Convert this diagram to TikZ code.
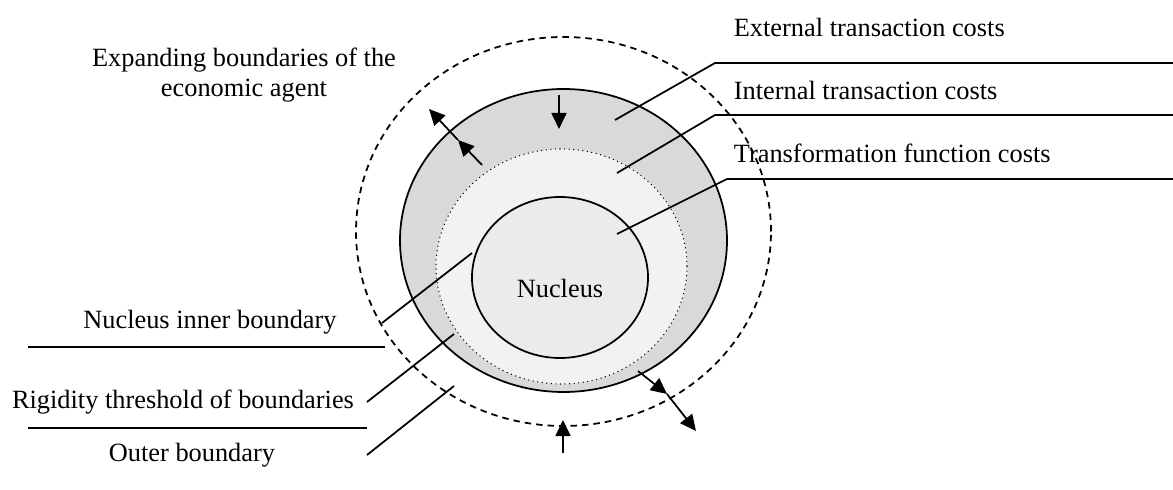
\documentclass[tikz,border=0pt]{standalone}
\usepackage{fontspec}
\setmainfont{Liberation Serif}
\usetikzlibrary{arrows.meta}

\begin{document}
\begin{tikzpicture}[font=\fontsize{15}{17}\selectfont, line width=1pt,
  arr/.style={-{Triangle[length=0.32cm,width=0.30cm]}},
  lbl/.style={inner sep=0pt}]
\useasboundingbox (0,0) rectangle (23.46,9.78);

% rings
\filldraw[fill=black!15] (11.27,4.97) ellipse [x radius=3.27, y radius=3.03];
\fill[black!5] (11.23,4.45) ellipse [x radius=2.51, y radius=2.35];
\draw[line width=0.6pt, dotted] (11.23,4.45) ellipse [x radius=2.51, y radius=2.35];
\filldraw[fill=black!8] (11.20,4.23) ellipse [x radius=1.76, y radius=1.61];
\draw[dash pattern=on 0.13cm off 0.1cm] (11.27,5.15) ellipse [x radius=4.15, y radius=3.89];

\node[lbl] (N) at (11.2,4.02) {Nucleus};

% arrows
\coordinate (t1) at (11.18,7.88); \coordinate (t2) at (11.18,7.20);
\coordinate (a1) at (9.64,6.48); \coordinate (a2) at (9.16,6.98); \coordinate (a3) at (8.58,7.60);
\coordinate (b1) at (12.76,2.36); \coordinate (b2) at (13.34,1.90); \coordinate (b3) at (13.92,1.16);
\coordinate (u1) at (11.26,0.72); \coordinate (u2) at (11.26,1.38);
\draw[arr] (t1) -- (t2);
\draw[arr] (a1) -- (a2);
\draw[arr] (a2) -- (a3);
\draw[arr] (b1) -- (b2);
\draw[arr] (b2) -- (b3);
\draw[arr] (u1) -- (u2);

% right labels
\node[lbl, anchor=west] (E) at (14.66,9.24) {External transaction costs};
\node[lbl, anchor=west] (I) at (14.66,7.98) {Internal transaction costs};
\node[lbl, anchor=west] (T) at (14.66,6.72) {Transformation function costs};
\coordinate (e1) at (12.30,7.38); \coordinate (e2) at (14.30,8.52); \coordinate (e3) at (23.46,8.52);
\coordinate (i1) at (12.34,6.32); \coordinate (i2) at (14.30,7.48); \coordinate (i3) at (23.46,7.48);
\coordinate (f1) at (12.34,5.10); \coordinate (f2) at (14.54,6.20); \coordinate (f3) at (23.46,6.20);
\draw (e1) -- (e2) -- (e3);
\draw (i1) -- (i2) -- (i3);
\draw (f1) -- (f2) -- (f3);

% left labels
\node[lbl, align=center] (X) at (4.88,8.28) {Expanding boundaries of the\\economic agent};
\node[lbl] (NB) at (4.2,3.34) {Nucleus inner boundary};
\node[lbl] (RB) at (3.66,1.74) {Rigidity threshold of boundaries};
\node[lbl] (OB) at (3.84,0.68) {Outer boundary};
\coordinate (n1) at (9.44,4.72); \coordinate (n2) at (7.64,3.32);
\coordinate (r1) at (9.08,3.10); \coordinate (r2) at (7.34,1.74);
\coordinate (o1) at (9.08,2.06); \coordinate (o2) at (7.34,0.68);
\coordinate (h1) at (0.56,2.84); \coordinate (h2) at (7.70,2.84);
\coordinate (h3) at (0.56,1.22); \coordinate (h4) at (7.34,1.22);
\draw (n1) -- (n2);
\draw (r1) -- (r2);
\draw (o1) -- (o2);
\draw (h1) -- (h2);
\draw (h3) -- (h4);
\end{tikzpicture}
\end{document}
